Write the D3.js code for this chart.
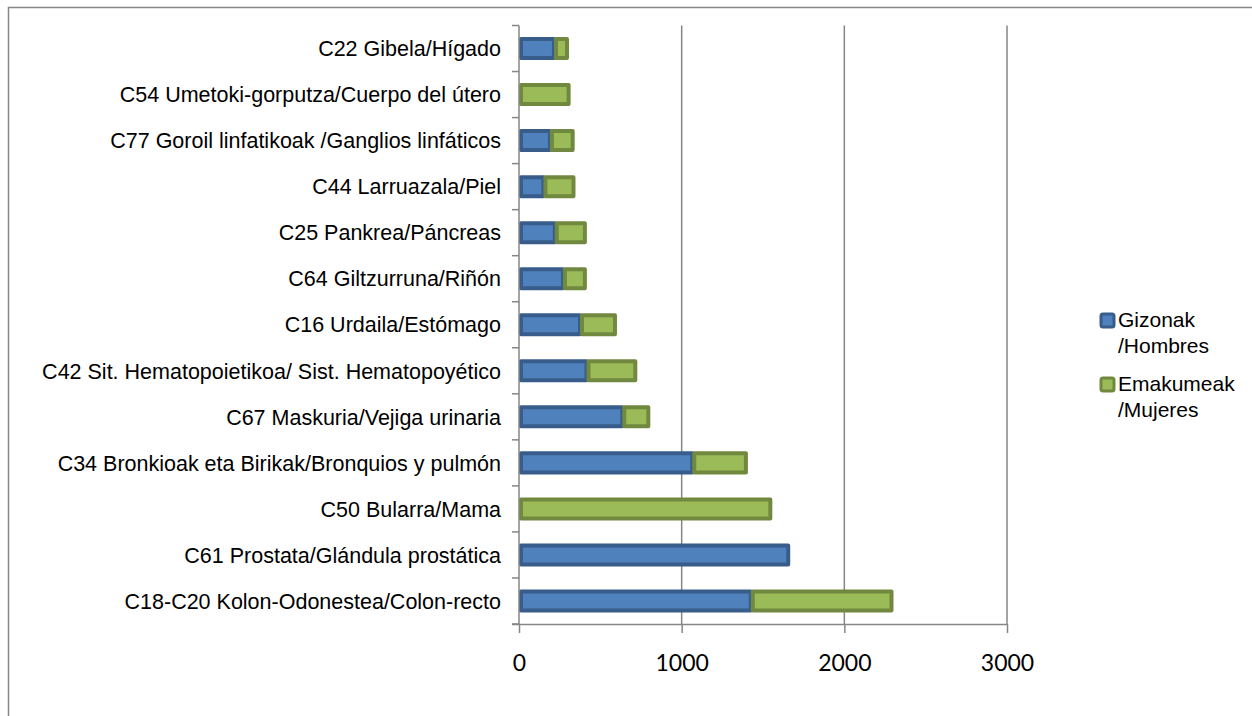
<!DOCTYPE html>
<html>
<head>
<meta charset="utf-8">
<script src="https://cdn.jsdelivr.net/npm/d3@7"></script>
<style>
  body { margin: 0; background: #fff; }
  svg { display: block; }
</style>
</head>
<body>
<div id="chart"></div>
<script>
// categories, top to bottom
const categories = [
    "C22 Gibela/Hígado",
    "C54 Umetoki-gorputza/Cuerpo del útero",
    "C77 Goroil linfatikoak /Ganglios linfáticos",
    "C44 Larruazala/Piel",
    "C25 Pankrea/Páncreas",
    "C64 Giltzurruna/Riñón",
    "C16 Urdaila/Estómago",
    "C42 Sit. Hematopoietikoa/ Sist. Hematopoyético",
    "C67 Maskuria/Vejiga urinaria",
    "C34 Bronkioak eta Birikak/Bronquios y pulmón",
    "C50 Bularra/Mama",
    "C61 Prostata/Glándula prostática",
    "C18-C20 Kolon-Odonestea/Colon-recto"
];
const gizonak    = [215, 0, 190, 150, 220, 270, 375, 415, 635, 1065, 0, 1655, 1425];
const emakumeak  = [80, 305, 140, 185, 185, 135, 215, 300, 160, 330, 1545, 0, 865];
const seriesNames = [["Gizonak", "/Hombres"], ["Emakumeak", "/Mujeres"]];
const xTicks = [0, 1000, 2000, 3000];
const title = "Localizaciones más frecuentes en ambos sexos";

const fills   = ["#4F81BD", "#9BBB59"];
const strokes = ["#385D8A", "#71893F"];
const gridCol = "#868686";

const width = 1252, height = 716;
const svg = d3.select("#chart").append("svg")
    .attr("width", width)
    .attr("height", height);

// title, cut off at the top edge like the source
svg.append("text")
    .attr("x", 90).attr("y", 0.3)
    .style("font-family", "Liberation Sans, Arial")
    .style("font-size", "23px")
    .style("font-weight", "bold")
    .attr("fill", "#333")
    .text(title);

// chart frame (runs off right and bottom)
svg.append("rect")
    .attr("x", 8.5).attr("y", 7.5)
    .attr("width", 1300).attr("height", 800)
    .attr("fill", "none")
    .attr("stroke", gridCol)
    .attr("stroke-width", 1.5);

const x = d3.scaleLinear().domain([0, 3000]).range([519, 1007]);
const y = d3.scaleBand().domain(categories).range([25.5, 624]).paddingInner(0.5).paddingOuter(0.25);

// gridlines
svg.append("g")
    .selectAll("line")
    .data(xTicks.slice(1))
    .join("line")
    .attr("x1", d => x(d)).attr("x2", d => x(d))
    .attr("y1", 25.5).attr("y2", 624)
    .attr("stroke", gridCol)
    .attr("stroke-width", 1.5);

// stacked bars
const rows = categories.map((c, i) => ({cat: c, vals: [gizonak[i], emakumeak[i]]}));
rows.forEach(r => {
    let start = 0;
    r.vals.forEach((v, s) => {
        if (v > 0) {
            svg.append("rect")
                .attr("x", x(start) + 2)
                .attr("y", y(r.cat) + 2)
                .attr("width", x(start + v) - x(start) - 2)
                .attr("height", y.bandwidth() - 4)
                .attr("fill", fills[s])
                .attr("stroke", strokes[s])
                .attr("stroke-width", 4)
                .attr("stroke-linejoin", "round");
        }
        start += v;
    });
});

// y axis
const bandEdges = categories.map(c => y(c) - y.step() * y.paddingInner() / 2);
bandEdges.push(624);
svg.append("line")
    .attr("x1", 519).attr("x2", 519)
    .attr("y1", 25.5).attr("y2", 624)
    .attr("stroke", gridCol).attr("stroke-width", 1.5);
svg.append("g")
    .selectAll("line")
    .data(bandEdges)
    .join("line")
    .attr("x1", 512).attr("x2", 519)
    .attr("y1", d => d).attr("y2", d => d)
    .attr("stroke", gridCol).attr("stroke-width", 1.5);

svg.append("g")
    .selectAll("text")
    .data(categories)
    .join("text")
    .attr("x", 501)
    .attr("y", d => y(d) + y.bandwidth() / 2)
    .attr("dy", "0.36em")
    .attr("text-anchor", "end")
    .style("font-family", "Liberation Sans, Arial")
    .style("font-size", "21.5px")
    .attr("fill", "#000")
    .text(d => d);

// x axis
const xAxis = svg.append("g")
    .attr("transform", "translate(0,624)")
    .call(d3.axisBottom(x).tickValues(xTicks).tickSize(9).tickPadding(22).tickFormat(d3.format("d")));
xAxis.select(".domain")
    .attr("d", "M512,0.5H1007")
    .attr("stroke", gridCol).attr("stroke-width", 1.5);
xAxis.selectAll(".tick line").attr("stroke", gridCol).attr("stroke-width", 1.5);
xAxis.selectAll(".tick text")
    .style("font-family", "Lato, Open Sans")
    .style("font-size", "23px")
    .attr("fill", "#000");

// legend
const legend = svg.append("g").attr("transform", "translate(1100,313)");
seriesNames.forEach((n, i) => {
    const g = legend.append("g").attr("transform", "translate(0," + (i * 64) + ")");
    g.append("rect")
        .attr("x", 1).attr("y", 1)
        .attr("width", 13).attr("height", 13)
        .attr("rx", 2)
        .attr("fill", fills[i])
        .attr("stroke", strokes[i])
        .attr("stroke-width", 3);
    const t = g.append("text")
        .attr("x", 18).attr("y", 14)
        .style("font-family", "Liberation Sans, Arial")
        .style("font-size", "21px");
    t.append("tspan").attr("x", 18).text(n[0]);
    t.append("tspan").attr("x", 18).attr("dy", 26).text(n[1]);
});
</script>
</body>
</html>
